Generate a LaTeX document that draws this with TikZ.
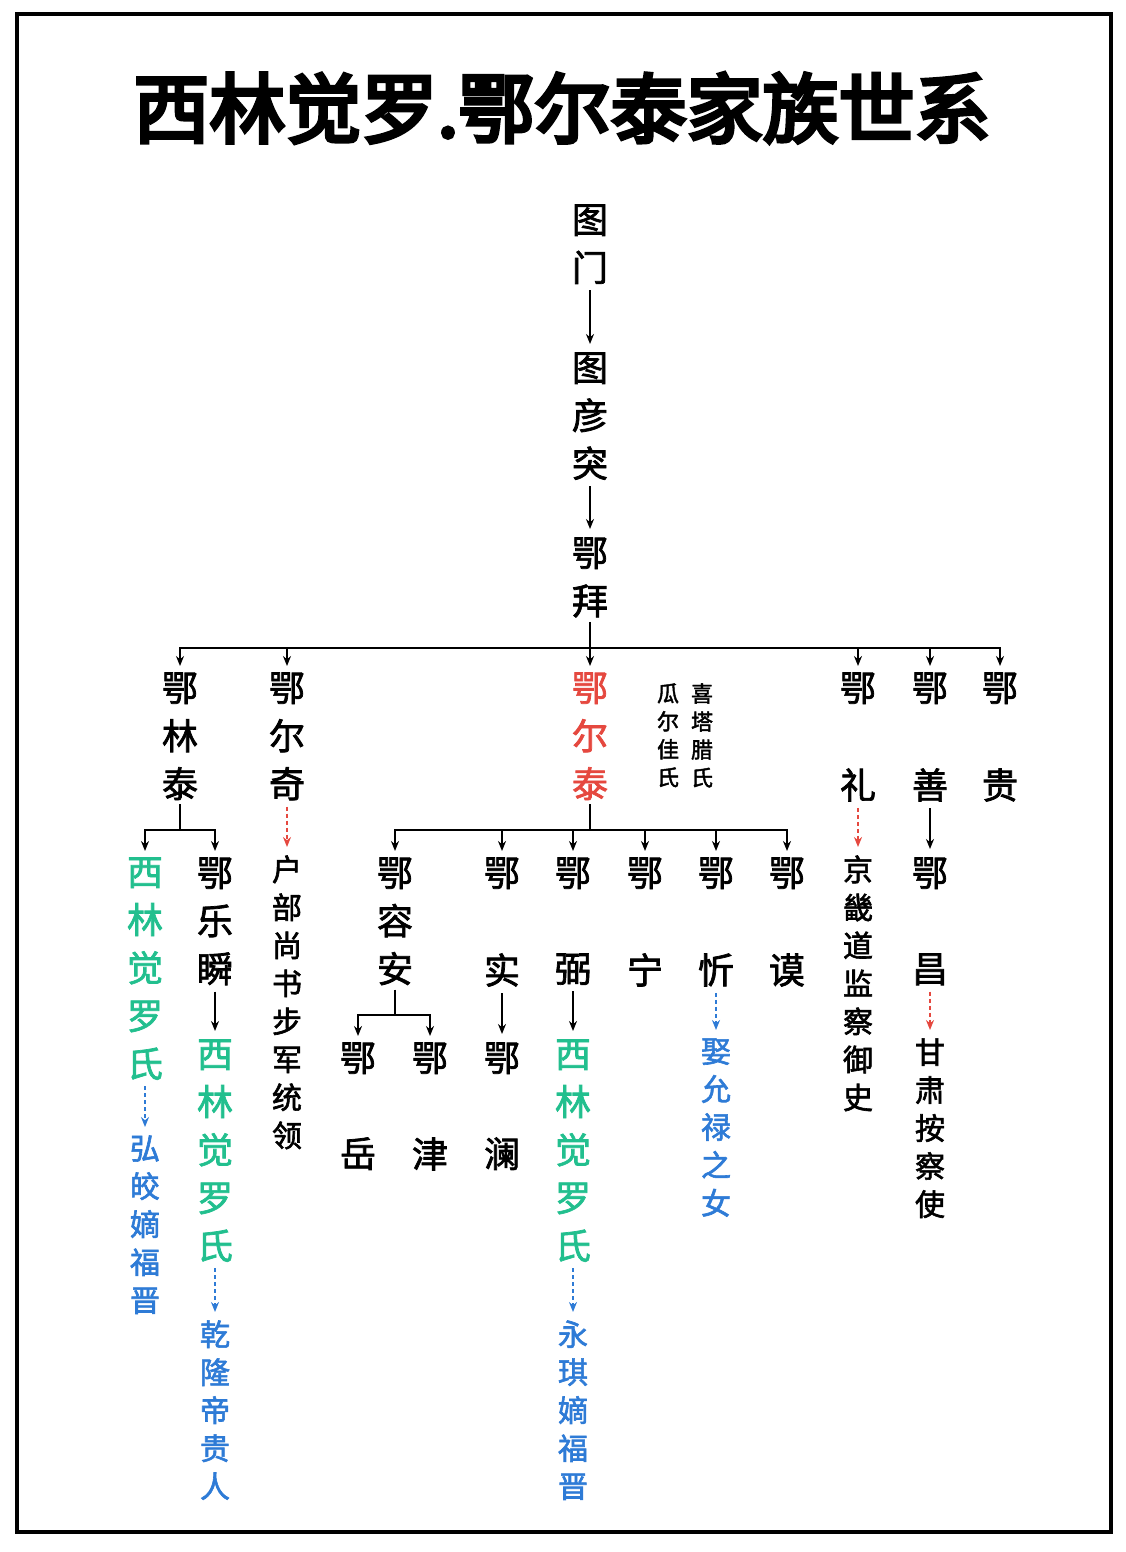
\documentclass[tikz,border=0pt]{standalone}
\usepackage{fontspec}
\newfontfamily\cjkb{Noto Sans CJK SC}[FakeBold=2]
\newfontfamily\cjkt{Noto Sans CJK SC}[FakeBold=5]
\usetikzlibrary{arrows.meta}
\definecolor{rd}{HTML}{E5483F}
\definecolor{gn}{HTML}{22BF8E}
\definecolor{bl}{HTML}{2E7BD6}
\begin{document}
\begin{tikzpicture}[x=0.5pt,y=-0.5pt,
 nm/.style={font=\cjkb\fontsize{18pt}{24pt}\selectfont,align=center,inner sep=0,anchor=north},
 sm/.style={font=\cjkb\fontsize{15pt}{19pt}\selectfont,align=center,inner sep=0,anchor=north},
 tn/.style={font=\cjkb\fontsize{11pt}{14pt}\selectfont,align=center,inner sep=0,anchor=north},
 ln/.style={line width=1.1pt},
 ar/.style={ln,-{Stealth[length=5pt,width=4pt]}},
 dt/.style={line width=0.9pt,dash pattern=on 2pt off 1.5pt,-{Stealth[length=5pt,width=4pt]}}]
\useasboundingbox (0,0) rectangle (1125,1552);
\draw[line width=2.2pt] (17,14) rectangle (1111,1532);
\node[font=\cjkt\fontsize{38pt}{38pt}\selectfont,inner sep=0] (title) at (562,108) {西林觉罗.鄂尔泰家族世系};
% top chain
\node[nm] (tumen) at (590,204) {图\\门};
\node[nm] (tuyan) at (590,352) {图\\彦\\突};
\node[nm] (ebai) at (590,537) {鄂\\拜};
\draw[ar] (tumen.south) ++(0,6) -- ([yshift=4pt]tuyan.north);
\draw[ar] (tuyan.south) ++(0,6) -- ([yshift=4pt]ebai.north);
% generation 2
\node[nm] (elintai) at (180,672) {鄂\\林\\泰};
\node[nm] (eerqi) at (287,672) {鄂\\尔\\奇};
\node[nm,text=rd] (eertai) at (590,672) {鄂\\尔\\泰};
\node[tn] (gua) at (668,683) {瓜\\尔\\佳\\氏};
\node[tn] (xi) at (702,683) {喜\\塔\\腊\\氏};
\node[nm] (eli1) at (858,672) {鄂};
\node[nm] (eli2) at (858,768) {礼};
\node[nm] (eshan1) at (930,672) {鄂};
\node[nm] (eshan2) at (930,768) {善};
\node[nm] (egui1) at (1000,672) {鄂};
\node[nm] (egui2) at (1000,768) {贵};
\coordinate (j1) at (590,648);
\draw[ln] (ebai.south) ++(0,4) -- (j1);
\foreach \n in {elintai,eerqi,eertai,eli1,eshan1,egui1}
  \draw[ar] (j1) -| ([yshift=3pt]\n.north);
% 鄂林泰 branch
\node[nm,text=gn] (xl1) at (145,857) {西\\林\\觉\\罗\\氏};
\node[nm] (elshun) at (215,857) {鄂\\乐\\瞬};
\coordinate (j2) at (180,830);
\draw[ln] (elintai.south) ++(0,4) -- (j2);
\draw[ar] (j2) -| ([yshift=3pt]xl1.north);
\draw[ar] (j2) -| ([yshift=3pt]elshun.north);
\node[sm,text=bl] (hong) at (145,1135) {弘\\皎\\嫡\\福\\晋};
\draw[dt,bl] (xl1.south) ++(0,6) -- ([yshift=4pt]hong.north);
\node[nm,text=gn] (xl2) at (215,1039) {西\\林\\觉\\罗\\氏};
\draw[ar] (elshun.south) ++(0,6) -- ([yshift=4pt]xl2.north);
\node[sm,text=bl] (qian) at (215,1320) {乾\\隆\\帝\\贵\\人};
\draw[dt,bl] (xl2.south) ++(0,6) -- ([yshift=4pt]qian.north);
% 鄂尔奇
\node[sm] (hubu) at (287,855) {户\\部\\尚\\书\\步\\军\\统\\领};
\draw[dt,rd] (eerqi.south) ++(0,6) -- ([yshift=4pt]hubu.north);
% 鄂尔泰 sons
\node[nm] (erongan) at (395,857) {鄂\\容\\安};
\node[nm] (eshi1) at (502,857) {鄂};
\node[nm] (eshi2) at (502,953) {实};
\node[nm] (ebi1) at (573,857) {鄂};
\node[nm] (ebi2) at (573,953) {弼};
\node[nm] (ening1) at (645,857) {鄂};
\node[nm] (ening2) at (645,953) {宁};
\node[nm] (exin1) at (716,857) {鄂};
\node[nm] (exin2) at (716,953) {忻};
\node[nm] (emo1) at (787,857) {鄂};
\node[nm] (emo2) at (787,953) {谟};
\coordinate (j3) at (590,830);
\draw[ln] (eertai.south) ++(0,4) -- (j3);
\foreach \n in {erongan,eshi1,ebi1,ening1,exin1,emo1}
  \draw[ar] (j3) -| ([yshift=3pt]\n.north);
% 鄂容安 sons
\node[nm] (eyue1) at (358,1042) {鄂};
\node[nm] (eyue2) at (358,1137) {岳};
\node[nm] (ejin1) at (430,1042) {鄂};
\node[nm] (ejin2) at (430,1137) {津};
\coordinate (j4) at (395,1015);
\draw[ln] (erongan.south) ++(0,4) -- (j4);
\draw[ar] (j4) -| ([yshift=3pt]eyue1.north);
\draw[ar] (j4) -| ([yshift=3pt]ejin1.north);
% 鄂实
\node[nm] (elan1) at (502,1042) {鄂};
\node[nm] (elan2) at (502,1137) {澜};
\draw[ar] (eshi2.south) ++(0,6) -- ([yshift=4pt]elan1.north);
% 鄂弼
\node[nm,text=gn] (xl3) at (573,1039) {西\\林\\觉\\罗\\氏};
\draw[ar] (ebi2.south) ++(0,6) -- ([yshift=4pt]xl3.north);
\node[sm,text=bl] (yongqi) at (573,1320) {永\\琪\\嫡\\福\\晋};
\draw[dt,bl] (xl3.south) ++(0,6) -- ([yshift=4pt]yongqi.north);
% 鄂忻
\node[sm,text=bl] (qu) at (716,1038) {娶\\允\\禄\\之\\女};
\draw[dt,bl] (exin2.south) ++(0,6) -- ([yshift=4pt]qu.north);
% 鄂礼
\node[sm] (jingji) at (858,855) {京\\畿\\道\\监\\察\\御\\史};
\draw[dt,rd] (eli2.south) ++(0,6) -- ([yshift=4pt]jingji.north);
% 鄂善
\node[nm] (echang1) at (930,857) {鄂};
\node[nm] (echang2) at (930,953) {昌};
\draw[ar] (eshan2.south) ++(0,6) -- ([yshift=4pt]echang1.north);
\node[sm] (gansu) at (930,1038) {甘\\肃\\按\\察\\使};
\draw[dt,rd] (echang2.south) ++(0,6) -- ([yshift=4pt]gansu.north);
\end{tikzpicture}
\end{document}
